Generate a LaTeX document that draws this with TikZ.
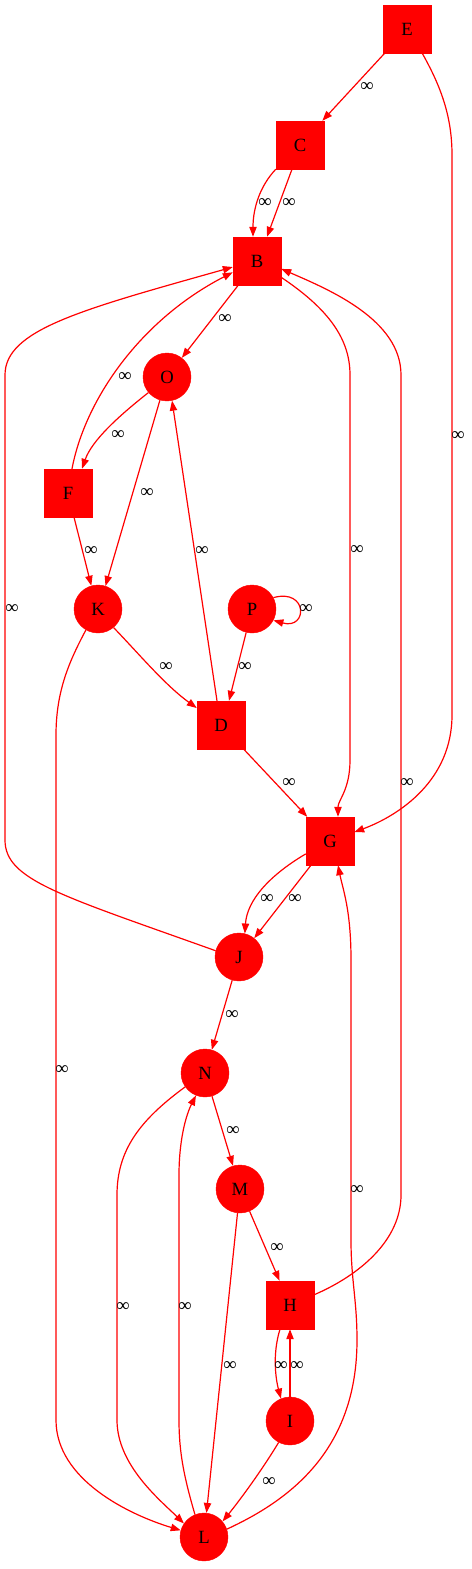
\documentclass[tikz,border=0pt]{standalone}
\usepackage{fontspec}
\setmainfont{Liberation Serif}
\usetikzlibrary{arrows.meta}
\begin{document}
\begin{tikzpicture}[x=0.75pt,y=-0.75pt,
  sq/.style={rectangle,fill=red,draw=red,line width=0.3pt,minimum size=36pt,inner sep=0pt,font=\fontsize{14pt}{16pt}\selectfont},
  ci/.style={circle,fill=red,draw=red,line width=0.3pt,minimum size=36pt,inner sep=0pt,font=\fontsize{14pt}{16pt}\selectfont},
  e/.style={draw=red,line width=0.9pt,-{Triangle[length=7.5pt,width=5.5pt]}},
  lbl/.style={inner sep=0pt,font=\fontsize{14pt}{16pt}\selectfont}]
\path[use as bounding box] (0,0) rectangle (471,1569);
% nodes
\node[sq] (E) at (407,29) {E};
\node[sq] (C) at (300,145) {C};
\node[sq] (B) at (257,261) {B};
\node[ci] (O) at (167,377) {O};
\node[sq] (F) at (68,493) {F};
\node[ci] (K) at (98,609) {K};
\node[ci] (P) at (252,609) {P};
\node[sq] (D) at (221,725) {D};
\node[sq] (G) at (330,841) {G};
\node[ci] (J) at (239,957) {J};
\node[ci] (N) at (205,1073) {N};
\node[ci] (M) at (240,1189) {M};
\node[sq] (H) at (290,1305) {H};
\node[ci] (I) at (290,1421) {I};
\node[ci] (L) at (204,1537) {L};
% edges
\draw[e] (E) -- (C) node[lbl] at (367,87) {∞};
\draw[e] ([xshift=-6.75pt]E.south east) .. controls (440,85) and (452,115) .. (452,155) -- (452,715) .. controls (452,780) and (400,815) .. (G.20) node[lbl] at (458,436) {∞};
\draw[e] (C.south west) .. controls (260,186) and (253,208) .. ([xshift=-3pt]B.north) node[lbl] at (265,203) {∞};
\draw[e] ([xshift=-6pt]C.south) -- ([xshift=7.5pt]B.north) node[lbl] at (289,203) {∞};
\draw[e] (B) -- (O) node[lbl] at (225,319) {∞};
\draw[e] ([xshift=3pt]F.north) .. controls (85,400) and (140,320) .. (B.-155) node[lbl] at (125,377) {∞};
\draw[e] (B.-34) .. controls (330,310) and (350,340) .. (350,375) -- (350,760) .. controls (350,790) and (338,800) .. ([xshift=6pt]G.north) node[lbl] at (357,550) {∞};
\draw[e] (H.23) .. controls (360,1275) and (401,1240) .. (401,1195) -- (401,375) .. controls (401,320) and (330,290) .. (B.-18) node[lbl] at (407,783) {∞};
\draw[e] (O.-140) .. controls (120,415) and (92,440) .. ([xshift=10.5pt]F.north) node[lbl] at (118,435) {∞};
\draw[e] (O.-107) -- (K.72) node[lbl] at (147,493) {∞};
\draw[e] ([xshift=4.5pt]F.south) -- (K.106) node[lbl] at (91,551) {∞};
\draw[e] ([xshift=-3pt]D.north) -- (O.-78) node[lbl] at (202,551) {∞};
\draw[e] (P.28) .. controls (308,588) and (308,630) .. (P.-28) node[lbl] at (306,609) {∞};
\draw[e] (P.-104) -- ([xshift=6pt]D.north) node[lbl] at (245,667) {∞};
\draw[e] (K.-50) .. controls (140,655) and (165,685) .. (D.145) node[lbl] at (166,667) {∞};
\draw[e] (K.-120) .. controls (70,660) and (56,690) .. (56,735) -- (56,1420) .. controls (56,1480) and (130,1515) .. (L.164) node[lbl] at (62,1070) {∞};
\draw[e] (D) -- (G) node[lbl] at (289,783) {∞};
\draw[e] (G.-152) .. controls (270,875) and (247,900) .. (J.76) node[lbl] at (267,899) {∞};
\draw[e] ([xshift=-14.25pt]G.south) -- (J.51) node[lbl] at (295,899) {∞};
\draw[e] (J.165) .. controls (60,895) and (5,880) .. (5,840) -- (5,375) .. controls (5,330) and (80,310) .. (B.-166) node[lbl] at (12,609) {∞};
\draw[e] (J) -- (N) node[lbl] at (232,1015) {∞};
\draw[e] (N) -- (M) node[lbl] at (233,1131) {∞};
\draw[e] (N.-145) .. controls (140,1120) and (117,1150) .. (117,1195) -- (117,1420) .. controls (117,1465) and (160,1500) .. (L.146) node[lbl] at (123,1307) {∞};
\draw[e] (L.112) .. controls (185,1480) and (179,1455) .. (179,1420) -- (179,1175) .. controls (179,1140) and (186,1115) .. (N.-112) node[lbl] at (185,1307) {∞};
\draw[e] (M) -- (L) node[lbl] at (230,1366) {∞};
\draw[e] (M) -- (H) node[lbl] at (277,1248) {∞};
\draw[e] ([xshift=-7.5pt]H.south) .. controls (272,1355) and (276,1380) .. (I.112) node[lbl] at (281,1366) {∞};
\draw[e] (I) -- (H) node[lbl] at (297,1366) {∞};
\draw[e] (I.-118) .. controls (262,1470) and (240,1500) .. (L.40) node[lbl] at (269,1482) {∞};
\draw[e] (L.19) .. controls (290,1500) and (357,1450) .. (357,1340) .. controls (357,1300) and (351,1280) .. (351,1240) -- (351,960) .. controls (351,910) and (343,890) .. ([xshift=6pt]G.south) node[lbl] at (357,1190) {∞};
\end{tikzpicture}
\end{document}
